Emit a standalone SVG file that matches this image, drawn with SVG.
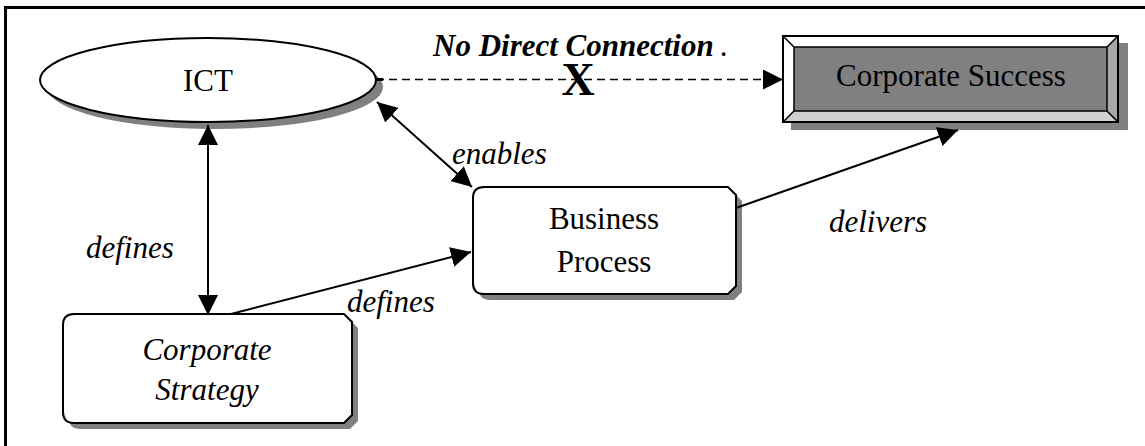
<svg xmlns="http://www.w3.org/2000/svg" width="1145" height="446" viewBox="0 0 1145 446">
<style>
.t{font-family:"Liberation Serif","Times New Roman",serif;font-size:31px;fill:#000}
.i{font-style:italic}
.big{font-size:46px;font-weight:bold}
.c{stroke:#000;stroke-width:2;fill:none}
.sh{fill:#808080}
.box{fill:#fff;stroke:#000;stroke-width:2}
</style>
<defs>
<marker id="ah" markerUnits="userSpaceOnUse" markerWidth="20" markerHeight="20" refX="20" refY="10" orient="auto-start-reverse" viewBox="0 0 20 20">
<path d="M0,0 L20,10 L0,20 Z" fill="#000"/>
</marker>
</defs>
<rect width="1145" height="446" fill="#fff"/>
<path d="M5.5,446 V7.5 H1145" fill="none" stroke="#000" stroke-width="3"/>

<g id="ict">
<ellipse cx="215" cy="87" rx="168" ry="42" class="sh"/>
<ellipse cx="208" cy="80" rx="168" ry="42" class="box"/>
<text x="208" y="91" class="t" text-anchor="middle">ICT</text>
</g>

<g id="corporate-success">
<rect x="791" y="43" width="337" height="87" class="sh"/>
<rect x="783" y="36" width="335" height="86" fill="#fff" stroke="#000" stroke-width="2"/>
<polygon points="1118,36 1118,122 1107,111 1107,47" fill="#a8a8a8"/>
<polygon points="783,122 1118,122 1107,111 794,111" fill="#d0d0d0"/>
<rect x="794" y="47" width="313" height="64" fill="#808080" stroke="#000" stroke-width="1.5"/>
<path d="M783,36 L794,47 M1118,36 L1107,47 M783,122 L794,111 M1118,122 L1107,111" stroke="#000" stroke-width="1.5"/>
<rect x="783" y="36" width="335" height="86" fill="none" stroke="#000" stroke-width="2"/>
<text x="951" y="86" class="t" text-anchor="middle">Corporate Success</text>
</g>

<g id="business-process">
<path d="M490,193 H734 L742,201 V292 L734,300 H490 Q479,300 479,289 V204 Q479,193 490,193 Z" class="sh"/>
<path d="M484,187 H728 L736,195 V286 L728,294 H484 Q473,294 473,283 V198 Q473,187 484,187 Z" class="box"/>
<text x="604" y="229" class="t" text-anchor="middle">Business</text>
<text x="604" y="272" class="t" text-anchor="middle">Process</text>
</g>

<g id="corporate-strategy">
<path d="M80,320 H350 L358,328 V421 L350,429 H80 Q69,429 69,418 V331 Q69,320 80,320 Z" class="sh"/>
<path d="M74,314 H344 L352,322 V415 L344,423 H74 Q63,423 63,412 V325 Q63,314 74,314 Z" class="box"/>
<text x="207" y="360" class="t i" text-anchor="middle">Corporate</text>
<text x="207" y="400" class="t i" text-anchor="middle">Strategy</text>
</g>

<g id="connectors">
<line x1="376" y1="79.5" x2="783" y2="79.5" stroke="#000" stroke-width="1.5" stroke-dasharray="8,5" marker-end="url(#ah)"/>
<line x1="376" y1="79.5" x2="383" y2="79.5" stroke="#000" stroke-width="3"/>
<line x1="208" y1="125" x2="208" y2="315" class="c" marker-start="url(#ah)" marker-end="url(#ah)"/>
<line x1="377" y1="102" x2="472" y2="187" class="c" marker-start="url(#ah)" marker-end="url(#ah)"/>
<line x1="231" y1="314" x2="471" y2="252" class="c" marker-end="url(#ah)"/>
<line x1="736" y1="208" x2="958" y2="130" class="c" marker-end="url(#ah)"/>
</g>

<g id="labels">
<text x="433" y="56" class="t i" font-weight="bold">No Direct Connection<tspan dx="6" style="font-weight:normal;font-style:normal">.</tspan></text>
<text x="578" y="95" class="t big" text-anchor="middle">X</text>
<text x="86" y="258" class="t i">defines</text>
<text x="347" y="312" class="t i">defines</text>
<text x="452" y="164" class="t i">enables</text>
<text x="829" y="232" class="t i">delivers</text>
</g>
</svg>
